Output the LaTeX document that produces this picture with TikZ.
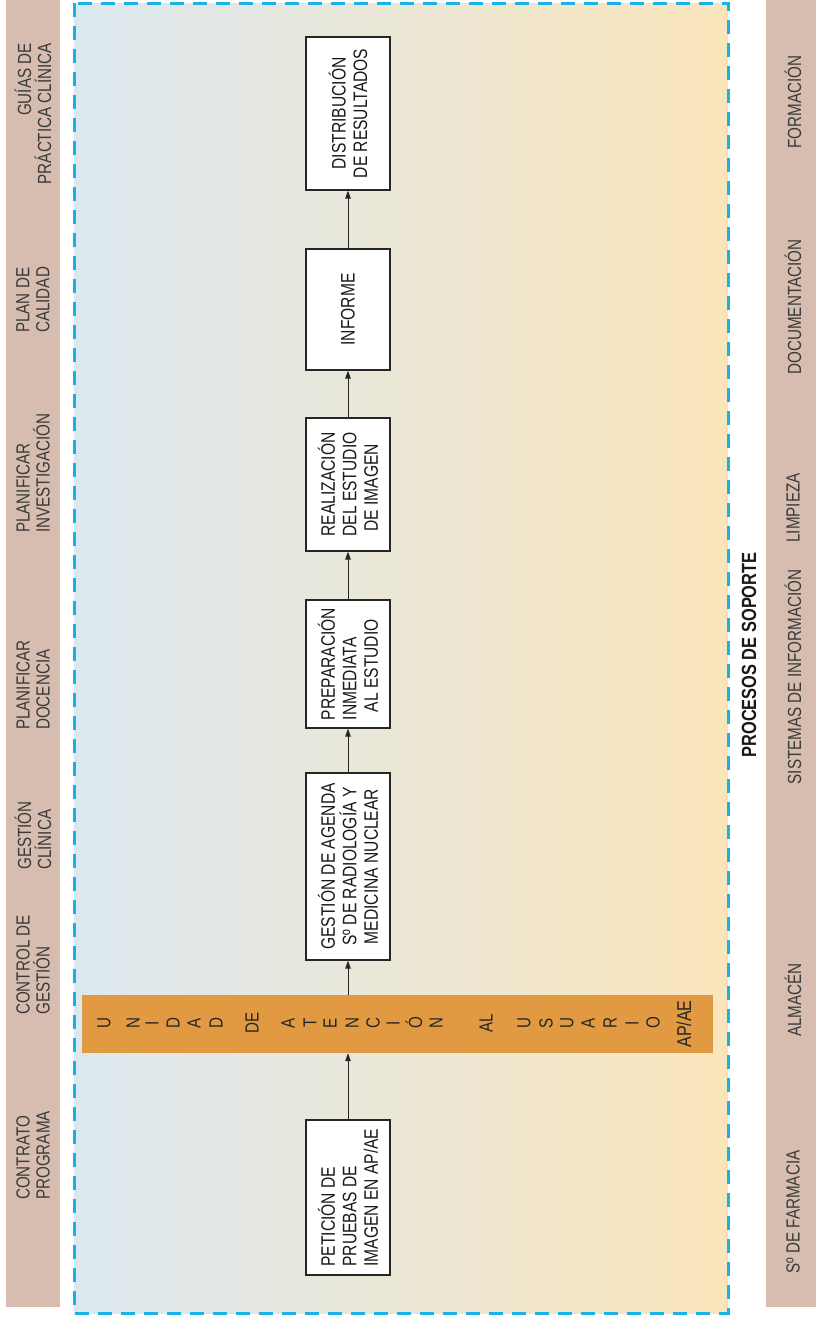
\documentclass[tikz,border=0pt]{standalone}
\usepackage{fontspec}
\setmainfont{Liberation Sans}[FakeStretch=0.8]
\usetikzlibrary{arrows.meta}
\definecolor{stripc}{HTML}{D6BDB0}
\definecolor{bandc}{HTML}{E29A42}
\definecolor{dashblue}{HTML}{1AB2E6}
\definecolor{gleft}{HTML}{DCE8F0}
\definecolor{gright}{HTML}{FAE5BB}
\definecolor{txt}{HTML}{3A3A3A}
\begin{document}
\begin{tikzpicture}[x=1pt,y=-1pt,
  lbl/.style={rotate=90, font=\fontsize{19}{20}\selectfont, text=txt, inner sep=0pt},
  rlbl/.style={rotate=90, font=\fontsize{19}{20}\selectfont, text=txt, inner sep=0pt},
  stepbox/.style={rotate=90, draw=black!85, line width=1.2pt, fill=white, minimum height=84pt, inner sep=0pt, font=\fontsize{19.5}{21.5}\selectfont, text=black!90},
  flow/.style={-{Triangle[length=8pt,width=5.5pt]}, line width=1pt, draw=black!85},
  bl/.style={rotate=90, font=\fontsize{19}{19}\selectfont, inner sep=0pt, text=black!85}
]
\useasboundingbox (0,0) rectangle (816,1317);
% strips
\fill[stripc] (6,0) rectangle (60,1307);
\fill[stripc] (766,0) rectangle (816,1307);
% gradient area
\shade[left color=gleft, right color=gright] (74,3) rectangle (728,1313);
\draw[dashblue, line width=3pt, dash pattern=on 14pt off 9pt] (74,3) rectangle (728,1313);
% orange band
\node[fill=bandc, minimum width=631pt, minimum height=58pt, inner sep=0pt] (band) at (397.5,1024) {};
\foreach \t/\xx [count=\i] in {U/104,N/133,I/152,D/173,A/194,D/216,DE/252,A/288,T/310,E/330,N/352,C/373,I/393,Ó/414,N/436,AL/486,U/524,S/546,U/567,A/588,R/610,I/632,O/653}
  \node[bl] (bl\i) at (\xx,1023) {\t};
\node[bl, font=\fontsize{20}{20}\selectfont] (apae) at (684,1024) {AP/AE};
% boxes
\node[stepbox, minimum width=155pt, align=left] (pet) at (348,1197.5) {PETICIÓN DE\\PRUEBAS DE\\IMAGEN EN AP/AE};
\node[stepbox, minimum width=187pt, align=center] (ges) at (348,866.5) {GESTIÓN DE AGENDA\\Sº DE RADIOLOGÍA Y\\MEDICINA NUCLEAR};
\node[stepbox, minimum width=128pt, align=left] (pre) at (348,664) {PREPARACIÓN\\INMEDIATA\\\hspace*{8pt}AL ESTUDIO};
\node[stepbox, minimum width=133pt, align=left] (rea) at (348,484.5) {REALIZACIÓN\\DEL ESTUDIO\\\hspace*{5pt}DE IMAGEN};
\node[stepbox, minimum width=121pt, align=center] (inf) at (348,309.5) {INFORME};
\node[stepbox, minimum width=153pt, align=center] (dis) at (348,113.5) {DISTRIBUCIÓN\\DE RESULTADOS};
% arrows
\draw[flow] (pet.east) -- (pet.east |- band.south);
\draw[flow] (band.north -| ges.west) -- (ges.west);
\draw[flow] (ges.east) -- (pre.west);
\draw[flow] (pre.east) -- (rea.west);
\draw[flow] (rea.east) -- (inf.west);
\draw[flow] (inf.east) -- (dis.west);
% left strip labels
\node[lbl, anchor=east, align=right] (l1) at (33,43) {GUÍAS DE\\PRÁCTICA CLÍNICA};
\node[lbl, anchor=west, align=left] (l2) at (33,333) {PLAN DE\\CALIDAD};
\node[lbl, anchor=west, align=left] (l3) at (33,533) {PLANIFICAR\\INVESTIGACIÓN};
\node[lbl, anchor=west, align=left] (l4) at (33,730) {PLANIFICAR\\DOCENCIA};
\node[lbl, anchor=west, align=left] (l5) at (33,870) {GESTIÓN\\CLÍNICA};
\node[lbl, anchor=west, align=left] (l6) at (33,1015) {CONTROL DE\\GESTIÓN};
\node[lbl, anchor=west, align=left] (l7) at (33,1200) {CONTRATO\\PROGRAMA};
% right strip labels
\node[rlbl] (r1) at (793,102) {FORMACIÓN};
\node[rlbl] (r2) at (793,307) {DOCUMENTACIÓN};
\node[rlbl] (r3) at (793,508) {LIMPIEZA};
\node[rlbl] (r4) at (793,677) {SISTEMAS DE INFORMACIÓN};
\node[rlbl] (r5) at (793,1000) {ALMACÉN};
\node[rlbl] (r6) at (793,1212) {Sº DE FARMACIA};
\node[rotate=90, inner sep=0pt, font=\fontsize{20.5}{20.5}\bfseries\selectfont, text=black!90] (ps) at (749,655) {PROCESOS DE SOPORTE};
\end{tikzpicture}
\end{document}
